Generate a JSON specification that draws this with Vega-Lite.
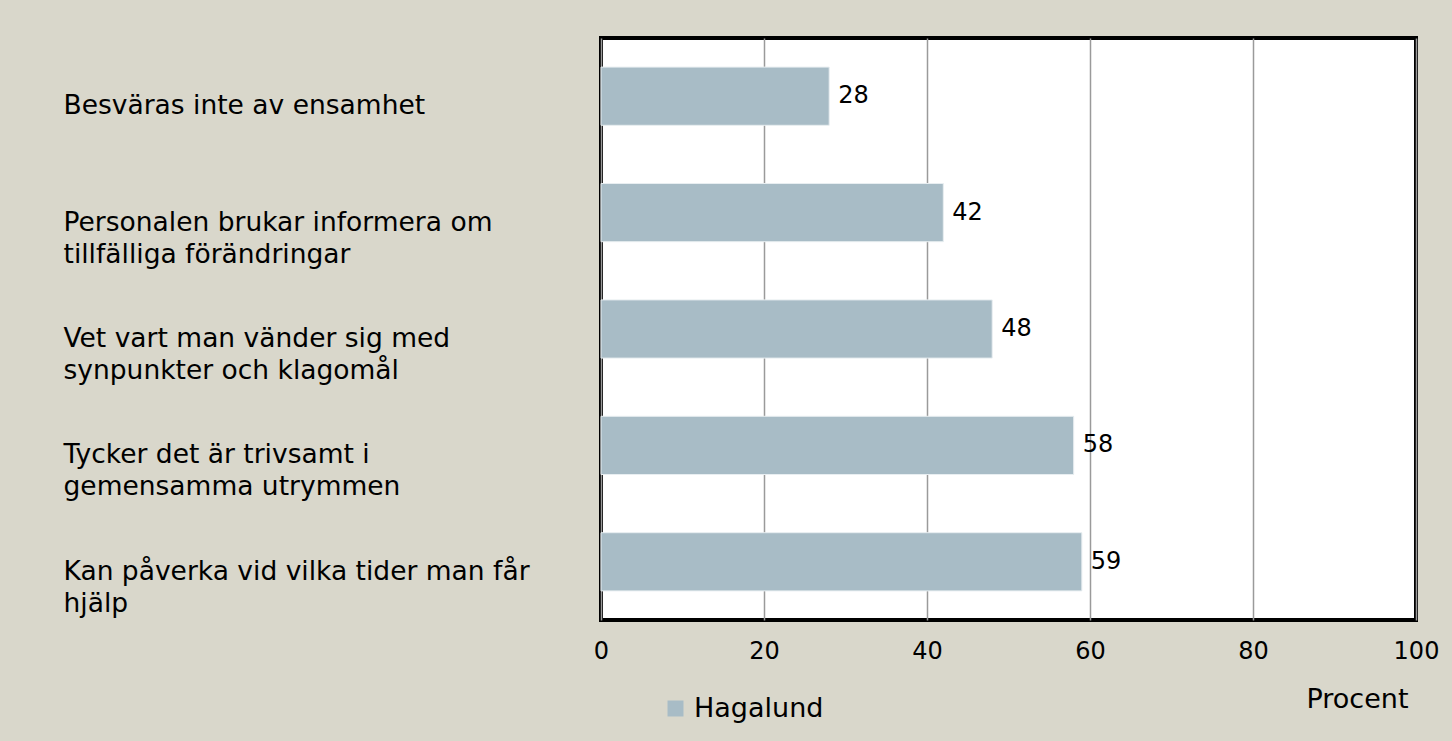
{
  "$schema": "https://vega.github.io/schema/vega-lite/v6.json",
  "autosize": "none",
  "width": 815,
  "height": 582,
  "padding": {"left": 601, "top": 38, "right": 36, "bottom": 121},
  "background": "#d9d7cb",
  "config": {
    "font": "DejaVu Sans",
    "view": {"fill": "white", "stroke": "black", "strokeWidth": 4},
    "axis": {"labelColor": "black", "titleColor": "black", "domain": false, "ticks": false, "tickSize": 0}
  },
  "data": {
    "values": [
      {"fraga": "Besväras inte av ensamhet", "serie": "Hagalund", "procent": 28},
      {"fraga": "Personalen brukar informera om|tillfälliga förändringar", "serie": "Hagalund", "procent": 42},
      {"fraga": "Vet vart man vänder sig med|synpunkter och klagomål", "serie": "Hagalund", "procent": 48},
      {"fraga": "Tycker det är trivsamt i|gemensamma utrymmen", "serie": "Hagalund", "procent": 58},
      {"fraga": "Kan påverka vid vilka tider man får|hjälp", "serie": "Hagalund", "procent": 59}
    ]
  },
  "encoding": {
    "y": {
      "field": "fraga",
      "type": "nominal",
      "sort": null,
      "scale": {"paddingInner": 0.5, "paddingOuter": 0.25},
      "axis": {
        "title": null,
        "labelAlign": "left",
        "labelBaseline": "top",
        "labelOffset": -3,
        "labelPadding": 538,
        "labelLimit": 600,
        "labelFontSize": 26.5,
        "labelLineHeight": 32,
        "labelExpr": "split(datum.label, '|')",
        "grid": false
      }
    },
    "x": {
      "field": "procent",
      "type": "quantitative",
      "scale": {"domain": [0, 100], "nice": false},
      "axis": {
        "values": [0, 20, 40, 60, 80, 100],
        "title": "Procent",
        "titleFontSize": 27,
        "titleFontWeight": "normal",
        "titleX": 756,
        "titleY": 79,
        "titleAlign": "center",
        "titleBaseline": "middle",
        "labelFontSize": 24,
        "labelPadding": 19,
        "labelBaseline": "top",
        "labelFlush": false,
        "grid": true,
        "gridColor": "#9a9a9a",
        "gridWidth": 1.5
      }
    }
  },
  "layer": [
    {
      "mark": {"type": "bar", "stroke": "#e8eef1", "strokeWidth": 1},
      "encoding": {
        "color": {
          "field": "serie",
          "type": "nominal",
          "scale": {"range": ["#a8bcc6"]},
          "legend": {
            "title": null,
            "orient": "none",
            "legendX": 61,
            "legendY": 657,
            "symbolType": "square",
            "symbolSize": 256,
            "symbolStrokeWidth": 0,
            "labelFontSize": 27,
            "labelColor": "black",
            "labelOffset": 5
          }
        }
      }
    },
    {
      "mark": {"type": "text", "align": "left", "baseline": "middle", "dx": 9, "fontSize": 24, "color": "black"},
      "encoding": {"text": {"field": "procent", "type": "quantitative"}}
    }
  ]
}
